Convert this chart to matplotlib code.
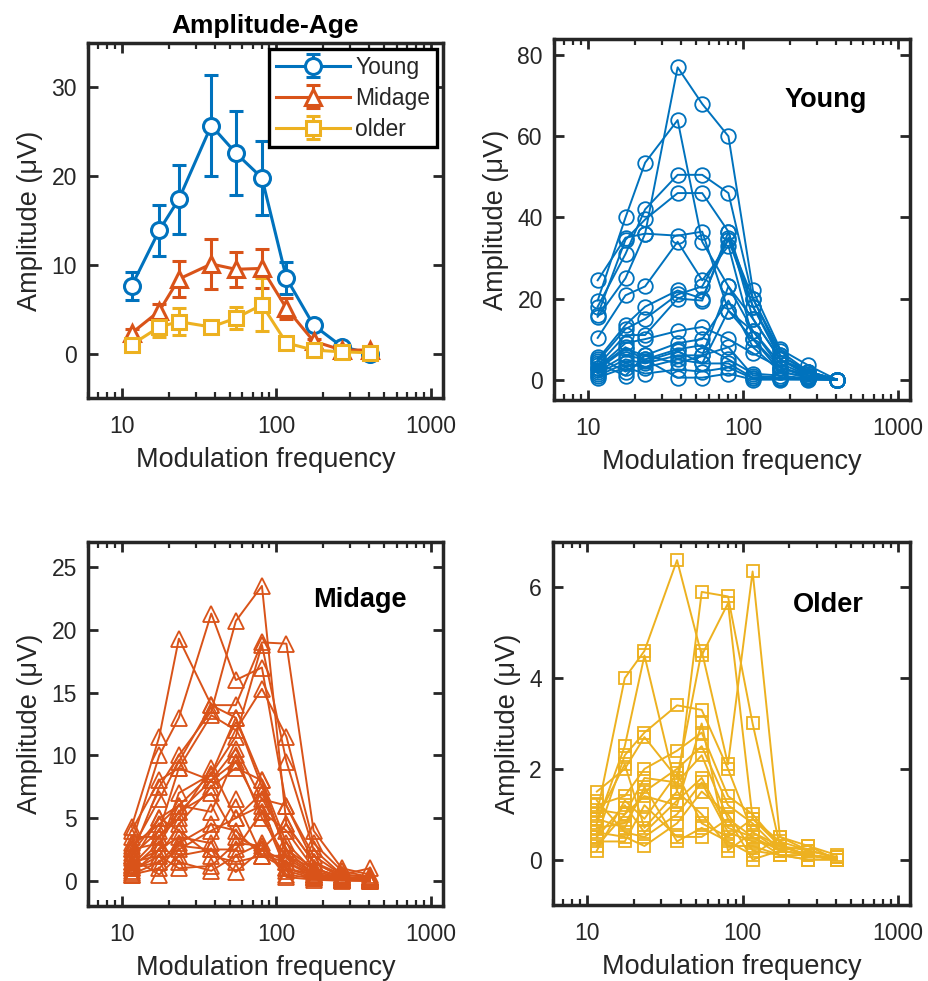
import numpy as np
import matplotlib
matplotlib.use("Agg")
import matplotlib.pyplot as plt
from matplotlib.ticker import LogLocator, NullFormatter

plt.rcParams["font.family"] = ["Liberation Sans", "DejaVu Sans"]

# modulation frequencies (Hz)
freqs = [11.5, 17.4, 23.3, 37.8, 54.5, 80.5, 116, 174, 265, 404]

# group means and standard errors (uV)
young_mean = [7.6, 13.9, 17.4, 25.7, 22.6, 19.8, 8.5, 3.2, 0.8, 0.0]
young_sem = [1.6, 2.9, 3.9, 5.7, 4.7, 4.2, 1.8, 0.6, 0.3, 0.1]
midage_mean = [2.3, 4.8, 8.4, 10.1, 9.5, 9.6, 5.1, 1.4, 0.4, 0.4]
midage_sem = [0.5, 0.8, 2.0, 2.8, 2.0, 2.2, 1.2, 0.3, 0.2, 0.1]
older_mean = [1.0, 3.0, 3.6, 3.0, 4.0, 5.5, 1.2, 0.4, 0.2, 0.1]
older_sem = [0.4, 1.1, 1.5, 0.5, 1.2, 3.0, 0.3, 0.2, 0.1, 0.05]

# individual subjects, one row per subject (uV)
young_subjects = [
    [24.5, 35.0, 36.0, 77.0, 68.0, 60.0, 22.0, 7.5, 3.5, 0.0],
    [19.5, 40.0, 53.5, 64.0, 34.0, 23.0, 15.0, 5.0, 2.0, 0.0],
    [18.0, 31.0, 42.0, 50.5, 50.5, 46.0, 20.0, 6.0, 2.0, 0.0],
    [16.0, 34.5, 39.5, 46.0, 46.0, 36.5, 18.0, 5.0, 1.0, 0.0],
    [15.5, 25.0, 36.0, 35.5, 36.5, 17.0, 12.0, 3.0, 1.0, 0.0],
    [10.3, 20.8, 23.0, 34.0, 24.5, 33.0, 10.0, 2.0, 0.5, 0.0],
    [5.0, 13.5, 18.0, 22.0, 20.0, 35.0, 20.0, 7.0, 2.0, 0.0],
    [4.5, 12.5, 15.0, 21.0, 23.0, 34.5, 18.0, 6.0, 2.0, 0.0],
    [3.5, 11.0, 11.0, 20.0, 19.5, 36.5, 15.0, 5.0, 1.5, 0.0],
    [3.0, 9.0, 10.0, 12.0, 13.0, 10.0, 6.5, 3.0, 1.0, 0.0],
    [2.5, 7.5, 6.0, 9.0, 10.0, 19.5, 8.0, 2.0, 0.5, 0.0],
    [2.0, 6.0, 5.0, 7.5, 8.5, 5.0, 1.5, 1.0, 0.3, 0.0],
    [1.5, 5.0, 4.0, 6.0, 6.0, 8.0, 1.0, 0.5, 0.2, 0.0],
    [1.0, 4.0, 3.0, 5.0, 4.0, 4.0, 0.5, 0.3, 0.1, 0.0],
    [0.5, 3.0, 1.5, 2.5, 2.0, 3.0, 0.3, 0.2, 0.1, 0.0],
    [5.5, 2.0, 5.0, 0.5, 0.5, 1.5, 0.0, 0.0, 0.0, 0.0],
    [4.0, 1.0, 6.0, 4.0, 6.0, 23.0, 12.0, 4.0, 1.0, 0.0],
    [2.8, 8.0, 4.5, 7.0, 4.0, 17.0, 10.0, 3.0, 0.5, 0.0],
]

midage_subjects = [
    [2.0, 7.5, 10.0, 13.5, 20.7, 23.5, 4.5, 1.5, 0.5, 0.3],
    [4.3, 11.5, 19.3, 14.0, 13.0, 8.0, 2.0, 1.0, 0.3, 0.2],
    [3.0, 10.0, 13.0, 21.3, 16.0, 17.0, 6.0, 2.0, 0.5, 0.3],
    [2.5, 6.5, 9.5, 14.0, 14.0, 19.0, 18.9, 4.0, 1.0, 0.5],
    [4.0, 8.0, 9.0, 13.2, 12.0, 15.3, 11.5, 3.0, 0.8, 0.3],
    [1.5, 5.0, 6.0, 8.5, 11.5, 18.8, 9.5, 2.5, 0.5, 1.0],
    [1.0, 3.0, 5.5, 8.0, 10.5, 6.5, 6.0, 1.5, 0.3, 0.2],
    [2.0, 4.0, 9.0, 8.0, 9.5, 5.5, 4.0, 1.0, 0.3, 0.1],
    [0.8, 2.0, 4.5, 7.5, 9.0, 8.0, 3.0, 0.8, 0.2, 0.1],
    [1.2, 3.5, 5.0, 9.0, 5.0, 7.0, 2.5, 0.5, 0.1, 0.1],
    [0.5, 1.5, 3.0, 4.5, 4.0, 2.0, 1.0, 0.5, 0.1, 0.1],
    [1.8, 0.5, 2.0, 2.5, 0.7, 2.5, 1.5, 0.3, 0.1, 0.1],
    [2.5, 3.0, 1.5, 0.8, 2.0, 3.0, 0.5, 0.2, 0.1, 0.0],
    [0.6, 2.5, 3.5, 3.0, 6.5, 2.0, 1.5, 0.5, 0.2, 0.0],
    [1.5, 2.0, 1.0, 1.2, 3.0, 2.8, 0.3, 0.1, 0.0, 0.0],
    [3.5, 3.5, 5.5, 7.0, 3.5, 2.5, 4.5, 1.5, 0.3, 0.1],
    [1.0, 1.5, 2.5, 4.0, 5.0, 6.0, 1.0, 0.3, 0.1, 0.1],
    [2.2, 5.0, 4.0, 2.0, 1.5, 2.0, 2.0, 0.6, 0.2, 0.1],
    [0.5, 1.0, 2.8, 2.5, 2.5, 5.5, 0.8, 0.2, 0.1, 0.0],
    [1.3, 2.5, 7.0, 8.5, 13.0, 7.5, 2.5, 1.0, 0.3, 0.1],
    [2.8, 4.5, 6.0, 5.5, 10.0, 5.0, 1.8, 0.5, 0.2, 0.1],
]

older_subjects = [
    [1.0, 4.0, 4.6, 6.6, 4.5, 5.65, 0.9, 0.4, 0.2, 0.05],
    [0.8, 2.5, 4.5, 1.5, 5.9, 5.8, 3.0, 0.3, 0.1, 0.05],
    [1.5, 2.0, 2.7, 1.8, 4.6, 2.1, 6.35, 0.5, 0.2, 0.05],
    [0.5, 2.3, 2.8, 3.4, 3.3, 2.0, 0.6, 0.3, 0.2, 0.05],
    [1.2, 1.4, 2.0, 2.4, 2.8, 1.4, 1.0, 0.3, 0.1, 0.0],
    [0.7, 0.8, 1.5, 2.0, 2.5, 1.2, 0.8, 0.2, 0.1, 0.0],
    [0.3, 1.0, 1.8, 1.7, 2.3, 0.9, 0.5, 0.2, 0.1, 0.0],
    [1.3, 0.6, 0.5, 1.0, 1.7, 0.6, 0.4, 0.3, 0.1, 0.0],
    [0.9, 2.1, 0.7, 1.5, 1.0, 0.3, 0.3, 0.1, 0.1, 0.0],
    [0.4, 0.4, 1.2, 0.5, 0.5, 0.9, 0.0, 0.2, 0.3, 0.1],
    [1.1, 1.0, 1.4, 1.2, 3.0, 0.2, 0.6, 0.2, 0.1, 0.0],
    [0.6, 0.5, 0.3, 0.8, 1.5, 1.0, 0.2, 0.1, 0.0, 0.0],
    [0.2, 1.3, 0.9, 1.9, 0.8, 0.5, 0.9, 0.3, 0.1, 0.0],
    [0.9, 0.7, 1.6, 0.4, 0.7, 0.4, 0.1, 0.5, 0.3, 0.0],
    [0.5, 1.2, 0.6, 1.3, 1.8, 0.7, 0.5, 0.1, 0.0, 0.0],
]

BLUE = "#0072BD"
ORANGE = "#D95319"
GOLD = "#EDB120"
INK = "#262626"


def style_axes(ax, ylim, yticks):
    ax.set_xscale("log")
    ax.set_xlim(6, 1200)
    ax.set_ylim(*ylim)
    ax.set_xticks([10, 100, 1000])
    ax.set_xticklabels(["10", "100", "1000"])
    ax.xaxis.set_minor_locator(LogLocator(base=10, subs=np.arange(2, 10)))
    ax.xaxis.set_minor_formatter(NullFormatter())
    ax.set_yticks(yticks)

    ax.tick_params(which="both", direction="in", top=True, right=True,
                   color=INK, labelcolor=INK)
    ax.tick_params(which="major", length=7, width=2, labelsize=16.5)
    ax.tick_params(which="minor", length=4, width=1.6)
    ax.tick_params(axis="x", pad=12)
    ax.tick_params(axis="y", pad=8)

    for spine in ax.spines.values():
        spine.set_linewidth(2.5)
        spine.set_color(INK)

    ax.set_xlabel("Modulation frequency", fontsize=19.5, color=INK,
                  labelpad=7)
    ax.set_ylabel("Amplitude (\u03bcV)", fontsize=19.5, color=INK,
                  labelpad=6)


def draw_subjects(ax, rows, color, marker, ms):
    for row in rows:
        ax.plot(freqs, row, color=color, lw=1.4, marker=marker, ms=ms,
                mfc="none", mec=color, mew=1.3)


fig = plt.figure(figsize=(9.29, 9.81), dpi=100)

ax_mean = fig.add_axes([0.0947, 0.5943, 0.3821, 0.3619])
ax_young = fig.add_axes([0.5963, 0.5923, 0.3832, 0.3680])
ax_mid = fig.add_axes([0.0947, 0.0765, 0.3821, 0.3710])
ax_old = fig.add_axes([0.5953, 0.0775, 0.3843, 0.3700])

# group averages with error bars
for mean, sem, color, marker, ms, label in [
    (young_mean, young_sem, BLUE, "o", 11.5, "Young"),
    (midage_mean, midage_sem, ORANGE, "^", 11.5, "Midage"),
    (older_mean, older_sem, GOLD, "s", 9.5, "older"),
]:
    ax_mean.errorbar(freqs, mean, yerr=sem, color=color, lw=2.2,
                     marker=marker, ms=ms, mfc="white", mec=color, mew=2.2,
                     capsize=5, capthick=2.2, elinewidth=2.2, label=label)

style_axes(ax_mean, (-5, 35), [0, 10, 20, 30])
ax_mean.set_title("Amplitude-Age", fontsize=19, fontweight="bold", pad=7)
leg = ax_mean.legend(loc="upper right", fontsize=16.5, frameon=True,
                     fancybox=False, framealpha=1, edgecolor="black",
                     handlelength=3.2, handletextpad=0.25, labelspacing=0.35,
                     borderaxespad=0.25, borderpad=0.3)
leg.get_frame().set_linewidth(2.4)
for text in leg.get_texts():
    text.set_color(INK)

# individual subjects per age group
draw_subjects(ax_young, young_subjects, BLUE, "o", 10.5)
style_axes(ax_young, (-5, 84), [0, 20, 40, 60, 80])
ax_young.text(0.649, 0.832, "Young", transform=ax_young.transAxes,
              fontsize=19.5, fontweight="bold", va="center", ha="left")

draw_subjects(ax_mid, midage_subjects, ORANGE, "^", 11)
style_axes(ax_mid, (-2, 27), [0, 5, 10, 15, 20, 25])
ax_mid.text(0.634, 0.84, "Midage", transform=ax_mid.transAxes,
            fontsize=19.5, fontweight="bold", va="center", ha="left")

draw_subjects(ax_old, older_subjects, GOLD, "s", 9)
style_axes(ax_old, (-1, 7), [0, 2, 4, 6])
ax_old.text(0.672, 0.826, "Older", transform=ax_old.transAxes,
            fontsize=19.5, fontweight="bold", va="center", ha="left")

fig.savefig("out.png", dpi=100)
plt.close(fig)
